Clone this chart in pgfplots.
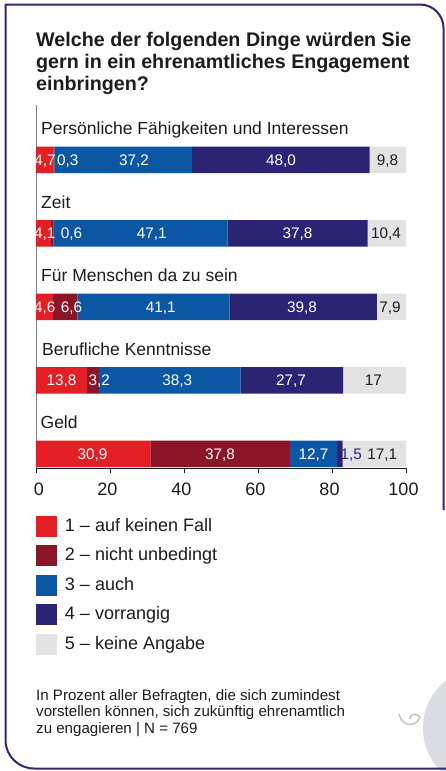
\documentclass[border=0pt]{standalone}
\usepackage{pgfplots}
\pgfplotsset{compat=1.18}
\usepackage{fontspec}
\setmainfont{Liberation Sans}
\definecolor{cRed}{HTML}{E31E24}
\definecolor{cDark}{HTML}{8B1527}
\definecolor{cBlue}{HTML}{0B57A4}
\definecolor{cNavy}{HTML}{2A2472}
\definecolor{cGrey}{HTML}{E3E3E3}
\definecolor{cFrame}{HTML}{2E2A6E}
\definecolor{cText}{HTML}{1C1C1C}
\definecolor{cDeco}{HTML}{DADCE2}
\pgfplotsset{
  sq/.style={legend image code/.code={\fill[##1] (0pt,-5.5pt) rectangle (21pt,15.5pt); \path (0pt,0pt) -- (29pt,0pt);}},
  lab/.style={draw=none, mark=none, nodes near coords, point meta=explicit symbolic,
    nodes near coords align=center,
    every node near coord/.append style={font=\fontsize{15.3}{18}\selectfont, text=#1, inner sep=0pt, text height=10.9pt, text depth=0pt, anchor=center}},
}
\begin{document}
\begin{tikzpicture}[x=1pt,y=1pt]
\path[use as bounding box] (0,0) rectangle (446,-771);
\fill[white] (0,0) rectangle (446,-771);
\fill[cDeco] (482,-728) ellipse [x radius=59pt, y radius=60pt];
\draw[cDeco!70!gray, line width=1.4pt] (399,-714) .. controls (402,-727) and (416,-728) .. (420,-717) .. controls (416,-712) and (410,-714) .. (410,-719);
\draw[cFrame, line width=2pt] (443.5,-510) -- (443.5,-28) arc[start angle=0, end angle=90, radius=23.5pt] -- (5.5,-4.5) -- (5.5,-740) arc[start angle=180, end angle=270, radius=28.5pt] -- (450,-768.5);
% title
\begin{scope}[every node/.style={anchor=base west, inner sep=0pt, text=cText, font=\fontsize{19.7}{21.7}\selectfont\bfseries}]
\node at (36,-46.7) {Welche der folgenden Dinge würden Sie};
\node at (36,-68.4) {gern in ein ehrenamtliches Engagement};
\node at (36,-90.0) {einbringen?};
\end{scope}
% footnote
\begin{scope}[every node/.style={anchor=base west, inner sep=0pt, text=cText, font=\fontsize{15.1}{16.5}\selectfont}]
\node at (36,-700.7) {In Prozent aller Befragten, die sich zumindest};
\node at (36,-716.9) {vorstellen können, sich zukünftig ehrenamtlich};
\node at (36,-733.1) {zu engagieren | N = 769};
\end{scope}

\begin{axis}[
  at={(36pt,-468.3pt)}, anchor=south west,
  scale only axis, width=370pt, height=363.3pt,
  xmin=0, xmax=100, ymin=-0.195, ymax=4.748,
  enlargelimits=false,
  xbar stacked, bar width=26.5pt,
  axis x line*=bottom, axis y line*=left,
  x axis line style={cText, line width=0.8pt},
  y axis line style={gray, line width=0.8pt},
  xtick={0,20,40,60,80,100}, ytick=\empty,
  xticklabels={\hspace{11pt}0,20,40,60,80,100\hspace{9pt}},
  tick align=outside, major tick length=5pt,
  xtick style={cText, line width=0.8pt},
  /pgf/number format/assume math mode=true,
  xticklabel style={font=\fontsize{18}{21}\selectfont, text=cText, yshift=-6pt, xshift=-2.5pt},
  legend style={at={(rel axis cs:0,0)}, anchor=north west, yshift=-47.2pt,
    draw=none, fill=none, inner sep=0pt, outer sep=0pt, row sep=8.5pt, column sep=0pt,
    font=\fontsize{18}{21}\selectfont, text=cText,
    cells={anchor=base west},
    nodes={inner sep=0pt, text height=12pt, text depth=4pt}},
  clip=false,
]
\addplot[sq, fill=cRed, draw=none] coordinates {(4.7,4) (4.1,3) (4.6,2) (13.8,1) (30.9,0)};
\addplot[sq, fill=cDark, draw=none] coordinates {(0.3,4) (0.6,3) (6.6,2) (3.2,1) (37.8,0)};
\addplot[sq, fill=cBlue, draw=none] coordinates {(37.2,4) (47.1,3) (41.1,2) (38.3,1) (12.7,0)};
\addplot[sq, fill=cNavy, draw=none] coordinates {(48.0,4) (37.8,3) (39.8,2) (27.7,1) (1.5,0)};
\addplot[sq, fill=cGrey, draw=none] coordinates {(9.8,4) (10.4,3) (7.9,2) (17,1) (17.1,0)};
\legend{1 -- auf keinen Fall, 2 -- nicht unbedingt, 3 -- auch, 4 -- vorrangig, 5 -- keine Angabe}
\end{axis}

\begin{axis}[
  at={(36pt,-468.3pt)}, anchor=south west,
  scale only axis, width=370pt, height=363.3pt,
  xmin=0, xmax=100, ymin=-0.195, ymax=4.748,
  enlargelimits=false, hide axis, clip=false,
]
\addplot[lab=white] table[x=x, y=y, meta=l] {
x y l
2.45 4 4,7
8.6 4 0,3
26.5 4 37,2
66.2 4 48,0
2.35 3 4,1
9.6 3 0,6
31.3 3 47,1
70.7 3 37,8
2.35 2 4,6
9.6 2 6,6
33.7 2 41,1
71.9 2 39,8
6.9 1 13,8
17.1 1 3,2
38.2 1 38,3
68.9 1 27,7
15.3 0 30,9
49.7 0 37,8
75.0 0 12,7
};
\addplot[lab=cText] table[x=x, y=y, meta=l] {
x y l
95.0 4 9,8
94.6 3 10,4
95.7 2 7,9
91.2 1 17
93.6 0 17,1
};
\addplot[lab=cNavy] table[x=x, y=y, meta=l] {
x y l
85.2 0 1,5
};
\begin{scope}[every node/.style={anchor=base west, inner sep=0pt, text=cText, font=\fontsize{17.5}{20}\selectfont}]
\node at (axis cs:1.35,4.34) {Persönliche Fähigkeiten und Interessen};
\node at (axis cs:1.35,3.34) {Zeit};
\node at (axis cs:1.35,2.34) {Für Menschen da zu sein};
\node at (axis cs:1.6,1.34) {Berufliche Kenntnisse};
\node at (axis cs:1.2,0.34) {Geld};
\end{scope}
\end{axis}
\end{tikzpicture}
\end{document}
